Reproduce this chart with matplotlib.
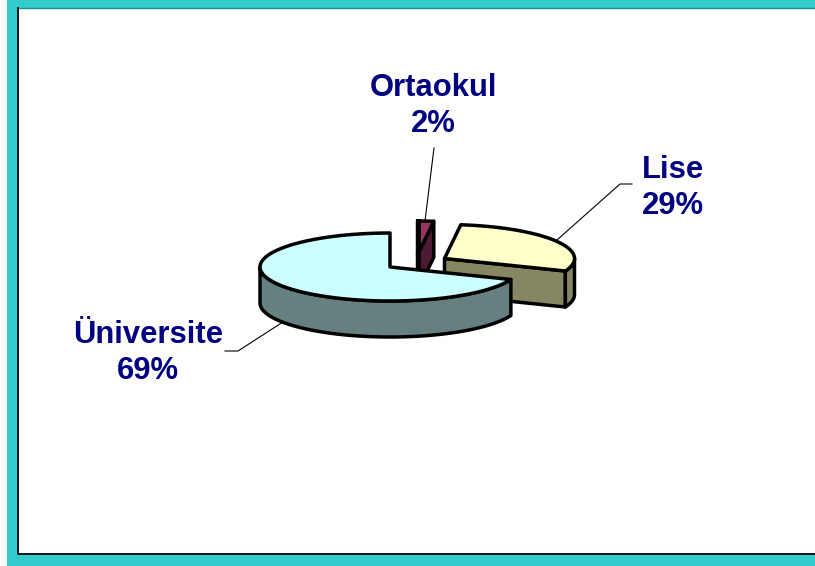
import numpy as np
import matplotlib
matplotlib.use('Agg')
import matplotlib.pyplot as plt
from matplotlib.patches import Polygon, Rectangle

# data, clockwise from the top of the pie
kategoriler = ['Ortaokul', 'Lise', 'Üniversite']
yuzdeler = [2, 29, 69]

# style
renk_ust = ['#993366', '#FFFFCC', '#CCFFFF']
renk_yan = ['#4D1A33', '#868663', '#668080']
merkezler = [(417.5, 255), (444.5, 258.5), (390, 267)]
RX, RY, DERINLIK = 130, 34, 36
LACI = '#000080'

plt.rcParams['font.family'] = ['Liberation Sans', 'DejaVu Sans']

fig = plt.figure(figsize=(8.15, 5.66), dpi=100)
ax = fig.add_axes([0, 0, 1, 1])
ax.set_xlim(0, 815)
ax.set_ylim(566, 0)
ax.axis('off')

# frame
ax.add_patch(Rectangle((7, 0), 808, 566, fc='#33CCCC', ec='none', zorder=0))
ax.add_patch(Rectangle((18, 8), 810, 546, fc='white', ec='none', zorder=1))
ax.plot([18, 815], [7.5, 7.5], color='#1F8F8F', lw=1, zorder=2)
ax.plot([18, 18, 815], [8, 554, 554], color='black', lw=1.3, zorder=2)


def nokta(c, t, z=0):
    return (c[0] + RX * np.cos(t), c[1] - RY * np.sin(t) + z)


def kenar(c, t1, t2, n=80):
    ts = np.linspace(t1, t2, n)
    return [nokta(c, t) for t in ts]


def dilim(i, t1, t2):
    # t1 > t2, angles run clockwise
    c = merkezler[i]
    z = 10 + i * 5
    kw = dict(ec='black', lw=2.5, joinstyle='round', zorder=z)

    # cut face on the clockwise end, only seen when it looks towards us
    if np.sin(t2) < 0 or np.cos(t2) > 0:
        a = nokta(c, t2)
        yuz = [c, a, (a[0], a[1] + DERINLIK), (c[0], c[1] + DERINLIK)]
        ax.add_patch(Polygon(yuz, fc=renk_yan[i], **kw))

    # outer rim, the part on the front half of the ellipse
    for k in (0, -2 * np.pi):
        a1, a2 = min(t1 + k, 0), max(t2 + k, -np.pi)
        if a1 > a2:
            yay = kenar(c, a1, a2)
            yan = yay + [(x, y + DERINLIK) for x, y in yay[::-1]]
            ax.add_patch(Polygon(yan, fc=renk_yan[i], **kw))

    ust_yuz = [c] + kenar(c, t1, t2)
    ax.add_patch(Polygon(ust_yuz, fc=renk_ust[i], **kw))


aci = np.pi / 2
for i, y in enumerate(yuzdeler):
    son = aci - 2 * np.pi * y / 100
    dilim(i, aci, son)
    aci = son

# thin slice: its back edge reads as a heavier line
c0 = merkezler[0]
ax.plot([c0[0], c0[0]], [c0[1] - RY, c0[1] + DERINLIK], color='black', lw=3.6, zorder=11)

# labels
etiket_yer = [(433.5, 106), (673, 188), (148, 353)]
for ad, y, (x0, y0) in zip(kategoriler, yuzdeler, etiket_yer):
    ax.text(x0, y0, f'{ad}\n{y}%', color=LACI, fontsize=22.3, fontweight='bold',
            ha='center', va='center', linespacing=1.22, zorder=40)

# leader lines
ax.plot([434, 425], [148, 221], color='black', lw=0.8, zorder=5)
ax.plot([632, 620, 557], [184, 184, 240], color='black', lw=0.8, zorder=5)
ax.plot([225, 238, 283], [351, 351, 322], color='black', lw=0.8, zorder=5)

fig.savefig('out.png', dpi=100)
